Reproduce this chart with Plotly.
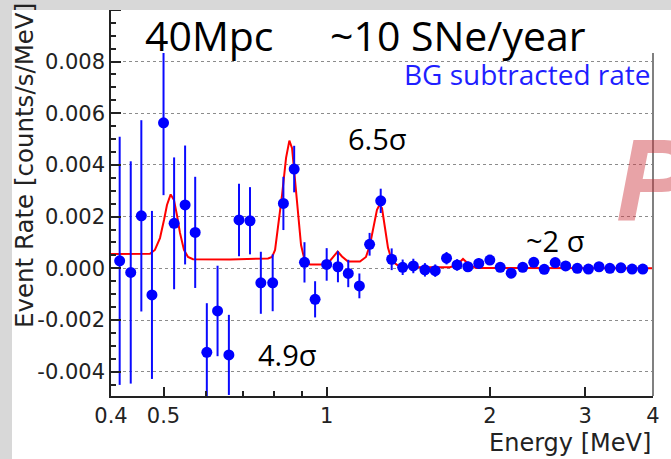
import plotly.graph_objects as go

# Background-subtracted event rate per energy bin
energy = [0.415, 0.435, 0.455, 0.476, 0.500, 0.523, 0.548, 0.572, 0.601, 0.629,
          0.660, 0.689, 0.722, 0.756, 0.795, 0.832, 0.871, 0.910, 0.952, 1.000,
          1.049, 1.096, 1.149, 1.200, 1.258, 1.318, 1.381, 1.445, 1.518, 1.586,
          1.664, 1.740, 1.822, 1.908, 2.000, 2.090, 2.190, 2.300, 2.410, 2.520,
          2.640, 2.760, 2.900, 3.040, 3.180, 3.330, 3.490, 3.660, 3.830]
rate = [0.00029, -0.00016, 0.00203, -0.00103, 0.00563, 0.00174, 0.00245, 0.00139, -0.00325, -0.00165,
        -0.00335, 0.00187, 0.00184, -0.00056, -0.00056, 0.00251, 0.00384, 0.00023, -0.00120, 0.00015,
        0.00006, -0.00020, -0.00068, 0.00093, 0.00261, 0.00035, 0.00004, 0.00009, -0.00006, -0.00009,
        0.00039, 0.00013, 0.00006, 0.00019, 0.00032, 0.00004, -0.00019, 0.00004, 0.00023, -0.00004,
        0.00022, 0.00009, 0.00000, -0.00003, 0.00006, 0.00000, 0.00002, -0.00003, -0.00003]
rate_err = [0.0048, 0.0043, 0.0037, 0.00325, 0.0028, 0.00255, 0.0023, 0.00215, 0.0019, 0.00175,
            0.00155, 0.0014, 0.0013, 0.0012, 0.0011, 0.00103, 0.0009, 0.00078, 0.0007, 0.00063,
            0.0006, 0.00053, 0.00048, 0.00044, 0.00047, 0.00042, 0.0003, 0.00028, 0.00026, 0.00024,
            0.00024, 0.00022, 0.0002, 0.0002, 0.00019, 0.00018, 0.00017, 0.00016, 0.00016, 0.00015,
            0.00015, 0.00014, 0.00014, 0.00013, 0.00013, 0.00012, 0.00012, 0.00012, 0.00011]

# Fitted spectrum (baseline plus line peaks)
fit_energy = [0.400, 0.472, 0.482, 0.4925, 0.501, 0.5074, 0.5154, 0.5227, 0.5294, 0.5362,
              0.5454, 0.5548, 0.5667, 0.6633, 0.7796, 0.7929, 0.8031, 0.8134, 0.8273, 0.8415,
              0.8534, 0.8632, 0.8743, 0.8855, 0.8968, 0.9122, 0.9318, 1.0012, 1.027, 1.0478,
              1.0671, 1.0946, 1.1519, 1.1816, 1.2018, 1.2224, 1.2381, 1.2514, 1.2649, 1.2812,
              1.2976, 1.3198, 1.3539, 1.4247, 1.6887, 1.7397, 1.7845, 1.8305, 1.8857, 4.000]
fit_rate = [0.00055, 0.00056, 0.00071, 0.00117, 0.00187, 0.00245, 0.00286, 0.00264, 0.00206, 0.00137,
            0.00071, 0.00044, 0.00035, 0.00034, 0.00038, 0.00044, 0.00071, 0.00156, 0.00284, 0.00427,
            0.00494, 0.00465, 0.00342, 0.00206, 0.00090, 0.00024, 0.00015, 0.00015, 0.00042, 0.00065,
            0.00046, 0.00026, 0.00026, 0.00044, 0.00090, 0.00168, 0.00226, 0.00245, 0.00233, 0.00156,
            0.00079, 0.00028, 0.00011, 0.00004, 0.00004, 0.00013, 0.00036, 0.00015, 0.00001, 0.00000]

y_tick_vals = [-0.004, -0.002, 0.0, 0.002, 0.004, 0.006, 0.008, 0.010]
y_tick_text = ["-0.004", "-0.002", "0.000", "0.002", "0.004", "0.006", "0.008", "0.010"]
x_tick_vals = [0.4, 0.5, 1, 2, 3, 4]
x_tick_text = ["0.4", "0.5", "1", "2", "3", "4"]
x_minor_vals = [0.6, 0.7, 0.8, 0.9]

W, H = 671, 459
ML, MR, MT, MB = 111, 18, 0, 63
PW, PH = W - ML - MR, H - MT - MB


def px(x):
    return (x - ML) / PW


def py(y):
    return (H - MB - y) / PH


AXFONT = "DejaVu Sans"
HANDFONT = "Open Sans"
INK = "#222"

fig = go.Figure()
fig.add_trace(go.Scatter(
    x=fit_energy, y=fit_rate, mode="lines",
    line=dict(color="#ff0000", width=2), hoverinfo="skip", showlegend=False))
fig.add_trace(go.Scatter(
    x=energy, y=rate, mode="markers",
    marker=dict(color="#0000ff", size=11, line=dict(width=0)),
    error_y=dict(type="data", array=rate_err, color="#0a0aff", thickness=2, width=0),
    showlegend=False))

fig.update_xaxes(
    type="log", range=[-0.39794, 0.60206],
    tickmode="array", tickvals=x_tick_vals, ticktext=x_tick_text,
    ticks="inside", ticklen=9, tickwidth=1.5, tickcolor=INK,
    minor=dict(tickmode="array", tickvals=x_minor_vals, ticks="inside",
               ticklen=5, tickwidth=1.5, tickcolor=INK, showgrid=False),
    showgrid=False, zeroline=False,
    showline=True, linecolor=INK, linewidth=1.5,
    tickfont=dict(family=AXFONT, size=21, color=INK))
fig.update_yaxes(
    range=[-0.00494, 0.01038],
    tickmode="array", tickvals=y_tick_vals, ticktext=y_tick_text,
    ticks="inside", ticklen=10, tickwidth=1.5, tickcolor=INK,
    minor=dict(tick0=0, dtick=0.0005, ticks="inside", ticklen=5,
               tickwidth=1.5, tickcolor=INK, showgrid=False),
    showgrid=True, gridcolor="#8c8c8c", gridwidth=1, griddash="dot",
    zeroline=False,
    showline=True, linecolor=INK, linewidth=1.5,
    tickfont=dict(family=AXFONT, size=21, color=INK))

shapes = [
    # right frame edge
    dict(type="line", xref="paper", yref="paper", x0=1, x1=1, y0=0, y1=1,
         line=dict(color="#808080", width=2), layer="above"),
    # white title box
    dict(type="rect", xref="paper", yref="paper", x0=px(135), x1=px(675),
         y0=py(53), y1=py(10), fillcolor="white", line=dict(width=0), layer="above"),
    # slide border
    dict(type="rect", xref="paper", yref="paper", x0=px(-5), x1=px(676),
         y0=py(10), y1=py(-5), fillcolor="#d8d8d8", line=dict(width=0), layer="above"),
    dict(type="rect", xref="paper", yref="paper", x0=px(-5), x1=px(12),
         y0=py(465), y1=py(-5), fillcolor="#d8d8d8", line=dict(width=0), layer="above"),
]

annotations = [
    dict(text="P", x=px(614), y=py(180), xanchor="left", yanchor="middle",
         font=dict(family="Liberation Sans", size=116, color="rgba(205,50,60,0.45)",
                   weight="bold", style="italic")),
    dict(text="40Mpc", x=px(143), y=py(35), xanchor="left", yanchor="middle",
         font=dict(family=HANDFONT, size=41, color="#000")),
    dict(text="~10 SNe/year", x=px(328), y=py(35), xanchor="left", yanchor="middle",
         font=dict(family=HANDFONT, size=41, color="#000")),
    dict(text="BG subtracted rate", x=px(402), y=py(74), xanchor="left", yanchor="middle",
         font=dict(family=HANDFONT, size=28, color="#1f1fff")),
    dict(text="6.5σ", x=px(377), y=py(138), xanchor="center", yanchor="middle",
         font=dict(family=HANDFONT, size=29, color="#000")),
    dict(text="4.9σ", x=px(287), y=py(354), xanchor="center", yanchor="middle",
         font=dict(family=HANDFONT, size=29, color="#000")),
    dict(text="~2 σ", x=px(555), y=py(240), xanchor="center", yanchor="middle",
         font=dict(family=HANDFONT, size=29, color="#000")),
    dict(text="Event Rate [counts/s/MeV]", textangle=-90, x=px(24.5), y=py(330),
         xanchor="center", yanchor="bottom",
         font=dict(family=AXFONT, size=24.5, color=INK)),
    dict(text="Energy [MeV]", x=px(653), y=py(443), xanchor="right", yanchor="middle",
         font=dict(family=AXFONT, size=24, color=INK)),
]
for a in annotations:
    a.update(xref="paper", yref="paper", showarrow=False)

fig.update_layout(
    width=W, height=H,
    margin=dict(l=ML, r=MR, t=MT, b=MB, pad=0, autoexpand=False),
    paper_bgcolor="white", plot_bgcolor="white",
    shapes=shapes, annotations=annotations, showlegend=False)

fig.write_html("out.html")
